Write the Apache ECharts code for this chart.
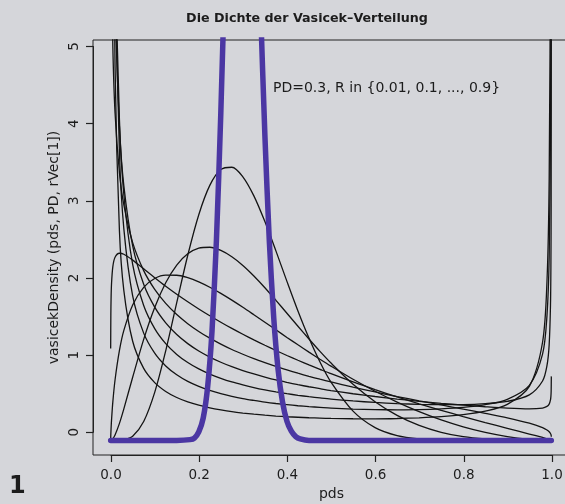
<!DOCTYPE html>
<html lang="de">
<head>
    <meta charset="UTF-8">
    <title>Vasicek-Dichte</title>
    <style>
        html, body { margin: 0; padding: 0; background: #d5d6da; }
        #main { width: 565px; height: 504px; }
    </style>
</head>
<body>
    <div id="main"></div>
    <script src="https://cdn.jsdelivr.net/npm/echarts@6/dist/echarts.min.js"></script>
    <script>
        // Achsen
        var xTicks = [0, 0.2, 0.4, 0.6, 0.8, 1.0];
        var yTicks = [0, 1, 2, 3, 4, 5];
        var rVec = [0.01, 0.1, 0.2, 0.3, 0.4, 0.5, 0.6, 0.7, 0.8, 0.9];

        // Stützstellen der schwarzen Kurven
        var pds = [0.0001, 0.0005, 0.001, 0.002, 0.005, 0.01, 0.02, 0.03, 0.05, 0.075,
            0.1, 0.125, 0.15, 0.175, 0.2, 0.225, 0.25, 0.275, 0.3, 0.325,
            0.35, 0.375, 0.4, 0.425, 0.45, 0.475, 0.5, 0.55, 0.6, 0.65,
            0.7, 0.75, 0.8, 0.85, 0.9, 0.95, 0.98, 0.99, 0.995, 0.998,
            0.999, 0.9995, 0.9999];

        var densR01 = [0, 0, 0, 0, 0, 0, 0, 0.006, 0.054, 0.246,
            0.625, 1.166, 1.792, 2.409, 2.937, 3.318, 3.524, 3.554, 3.43, 3.182,
            2.847, 2.466, 2.069, 1.684, 1.331, 1.02, 0.758, 0.381, 0.166, 0.062,
            0.019, 0.004, 0.001, 0, 0, 0, 0, 0, 0, 0,
            0, 0, 0];
        var densR02 = [0, 0, 0.001, 0.003, 0.02, 0.07, 0.222, 0.411, 0.822, 1.315,
            1.729, 2.051, 2.282, 2.428, 2.501, 2.513, 2.472, 2.39, 2.277, 2.14,
            1.987, 1.823, 1.654, 1.485, 1.319, 1.158, 1.006, 0.731, 0.504, 0.326,
            0.195, 0.105, 0.048, 0.018, 0.004, 0, 0, 0, 0, 0,
            0, 0, 0];
        var densR03 = [0.022, 0.087, 0.152, 0.26, 0.501, 0.786, 1.17, 1.431, 1.763, 1.992,
            2.106, 2.15, 2.149, 2.117, 2.063, 1.993, 1.913, 1.825, 1.732, 1.635,
            1.537, 1.439, 1.34, 1.244, 1.149, 1.056, 0.966, 0.795, 0.639, 0.498,
            0.374, 0.266, 0.176, 0.104, 0.05, 0.014, 0.003, 0.001, 0, 0,
            0, 0, 0];
        var densR04 = [1.195, 1.638, 1.84, 2.036, 2.261, 2.383, 2.435, 2.422, 2.346, 2.232,
            2.117, 2.006, 1.902, 1.804, 1.71, 1.622, 1.538, 1.457, 1.381, 1.308,
            1.238, 1.17, 1.105, 1.043, 0.983, 0.925, 0.868, 0.761, 0.661, 0.566,
            0.476, 0.391, 0.31, 0.232, 0.157, 0.083, 0.038, 0.021, 0.012, 0.006,
            0.004, 0.002, 0.001];
        var densR05 = [11.98, 8.72, 7.51, 6.42, 5.13, 4.264, 3.483, 3.064, 2.573, 2.209,
            1.965, 1.783, 1.638, 1.519, 1.418, 1.33, 1.253, 1.183, 1.121, 1.063,
            1.011, 0.962, 0.917, 0.874, 0.834, 0.796, 0.76, 0.692, 0.63, 0.571,
            0.515, 0.461, 0.407, 0.352, 0.294, 0.224, 0.166, 0.135, 0.112, 0.09,
            0.077, 0.066, 0.048];
        var densR06 = [50.9, 24.3, 17.6, 12.7, 8.15, 5.79, 4.081, 3.311, 2.53, 2.032,
            1.734, 1.529, 1.377, 1.259, 1.163, 1.084, 1.017, 0.959, 0.908, 0.864,
            0.824, 0.787, 0.755, 0.725, 0.698, 0.673, 0.649, 0.607, 0.571, 0.538,
            0.509, 0.482, 0.459, 0.438, 0.42, 0.411, 0.421, 0.442, 0.472, 0.526,
            0.578, 0.64, 0.833];
        var densR07 = [128.7, 45.8, 29.3, 18.7, 10.3, 6.56, 4.169, 3.197, 2.289, 1.755,
            1.455, 1.259, 1.119, 1.013, 0.93, 0.863, 0.808, 0.761, 0.722, 0.687,
            0.657, 0.631, 0.608, 0.587, 0.569, 0.553, 0.538, 0.513, 0.494, 0.479,
            0.469, 0.465, 0.466, 0.478, 0.508, 0.593, 0.773, 0.972, 1.245, 1.761,
            2.317, 3.075, 6.085];
        var densR08 = [224, 64, 37.4, 21.9, 10.78, 6.336, 3.739, 2.753, 1.881, 1.396,
            1.135, 0.969, 0.854, 0.768, 0.703, 0.651, 0.609, 0.574, 0.544, 0.52,
            0.498, 0.48, 0.465, 0.451, 0.439, 0.43, 0.421, 0.408, 0.401, 0.398,
            0.4, 0.41, 0.429, 0.465, 0.535, 0.717, 1.122, 1.62, 2.382, 4.047,
            6.112, 9.305, 25.3];
        var densR09 = [265, 64.5, 35.2, 19.3, 8.778, 4.868, 2.723, 1.949, 1.29, 0.937,
            0.752, 0.637, 0.558, 0.501, 0.458, 0.424, 0.397, 0.374, 0.356, 0.341,
            0.328, 0.317, 0.308, 0.301, 0.295, 0.29, 0.286, 0.282, 0.281, 0.285,
            0.294, 0.309, 0.336, 0.381, 0.469, 0.703, 1.277, 2.065, 3.397, 6.686,
            11.28, 19.19, 67.4];

        // R = 0.01 (lila)
        var pdsR001 = [0.0001, 0.15, 0.18, 0.19, 0.2, 0.21, 0.22, 0.23, 0.24, 0.25,
            0.26, 0.28, 0.3, 0.32, 0.34, 0.35, 0.36, 0.37, 0.38, 0.39,
            0.4, 0.41, 0.42, 0.43, 0.45, 0.9999];
        var densR001 = [0, 0, 0.01, 0.03, 0.11, 0.29, 0.69, 1.42, 2.6, 4.26,
            6.27, 10.1, 11.4, 9.33, 5.66, 3.97, 2.6, 1.6, 0.92, 0.5,
            0.25, 0.12, 0.05, 0.02, 0, 0];

        var blackCurves = [densR01, densR02, densR03, densR04, densR05, densR06, densR07, densR08, densR09];

        function pairs(xs, ys) {
            return xs.map(function (x, i) { return [x, ys[i]]; });
        }

        var textColor = '#1c1c1c';
        var lineColor = '#222';
        var font = 'DejaVu Sans';

        var series = blackCurves.map(function (d, i) {
            return {
                name: 'R=' + rVec[i + 1],
                type: 'line',
                xAxisIndex: 0,
                yAxisIndex: 0,
                data: pairs(pds, d),
                showSymbol: false,
                smooth: 0.3,
                clip: true,
                silent: true,
                lineStyle: { color: '#141414', width: 1.3 },
                z: 2
            };
        });
        series.push({
            name: 'R=0.01',
            type: 'line',
            xAxisIndex: 0,
            yAxisIndex: 0,
            data: pairs(pdsR001, densR001),
            showSymbol: false,
            smooth: 0.25,
            clip: true,
            silent: true,
            lineStyle: { color: '#4b37a3', width: 5.5, cap: 'round', join: 'round' },
            z: 3
        });

        var chart = echarts.init(document.getElementById('main'));
        var option = {
            backgroundColor: '#d5d6da',
            animation: false,
            textStyle: { fontFamily: font },
            title: {
                text: 'Die Dichte der Vasicek–Verteilung',
                left: 307,
                top: 12,
                padding: 0,
                textAlign: 'center',
                textStyle: { fontSize: 12.7, fontWeight: 'bold', color: textColor, fontFamily: font }
            },
            graphic: [{
                type: 'text',
                left: 273,
                top: 81,
                style: { text: 'PD=0.3, R in {0.01, 0.1, ..., 0.9}', font: '14px "DejaVu Sans"', fill: textColor }
            }, {
                type: 'text',
                left: 9,
                top: 475,
                style: { text: '1', font: 'bold 24px "DejaVu Sans"', fill: textColor }
            }],
            grid: [{
                // Plotbereich mit Rahmen
                left: 93, top: 40, width: 476, height: 415,
                outerBoundsMode: 'none',
                show: true, borderColor: lineColor, borderWidth: 1,
                backgroundColor: 'transparent'
            }, {
                // Bereich der Achsenbeschriftung (0..1 bzw. 0..5)
                left: 111, top: 46.5, width: 441, height: 385.8,
                outerBoundsMode: 'none'
            }],
            xAxis: [{
                gridIndex: 0,
                type: 'value',
                min: -0.04,
                max: 1.04,
                show: false
            }, {
                gridIndex: 1,
                type: 'value',
                min: 0,
                max: 1,
                interval: 0.2,
                offset: 22.7,
                name: 'pds',
                nameLocation: 'middle',
                nameGap: 30,
                nameTextStyle: { fontSize: 14, color: textColor, fontFamily: font },
                axisLine: { show: true, onZero: false, lineStyle: { color: lineColor, width: 1 } },
                splitLine: { show: false },
                axisTick: { show: true, length: 7, lineStyle: { color: lineColor, width: 1.2 } },
                axisLabel: {
                    margin: 13, fontSize: 13.5, color: textColor, fontFamily: font,
                    formatter: function (v) { return v.toFixed(1); }
                }
            }],
            yAxis: [{
                gridIndex: 0,
                type: 'value',
                min: -0.19,
                max: 5.21,
                name: 'vasicekDensity (pds, PD, rVec[1])',
                nameLocation: 'middle',
                nameGap: 32,
                nameTextStyle: { fontSize: 14, color: textColor, fontFamily: font },
                axisLine: { show: false, onZero: false },
                axisTick: { show: false },
                axisLabel: { show: false },
                splitLine: { show: false }
            }, {
                gridIndex: 1,
                type: 'value',
                min: 0,
                max: 5,
                interval: 1,
                offset: 18,
                axisLine: { show: true, onZero: false, lineStyle: { color: lineColor, width: 1 } },
                splitLine: { show: false },
                axisTick: { show: true, length: 7, lineStyle: { color: lineColor, width: 1.2 } },
                axisLabel: { rotate: 90, margin: 12, fontSize: 13.5, color: textColor, fontFamily: font }
            }],
            series: series
        };
        chart.setOption(option);
    </script>
</body>
</html>
